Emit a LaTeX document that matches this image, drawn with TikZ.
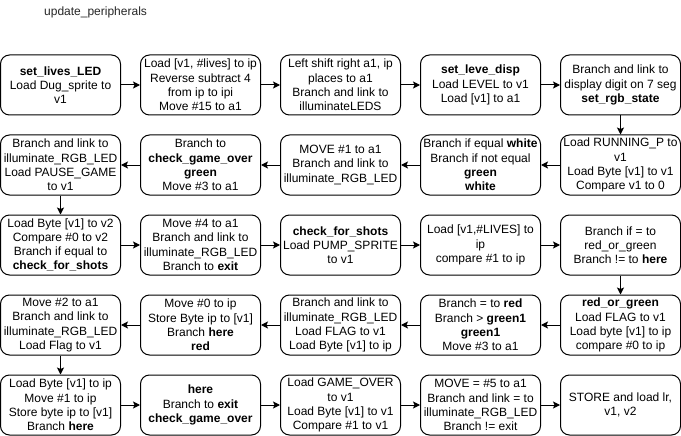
\documentclass[tikz,border=0pt]{standalone}
\usepackage{fontspec}
\setmainfont{Liberation Sans}
\usetikzlibrary{arrows.meta}
\tikzset{
  box/.style={draw, rounded corners=9pt, minimum width=120pt, minimum height=60pt,
    align=center, inner sep=0pt, line width=1pt,
    font=\fontsize{12pt}{14.2pt}\selectfont},
  arr/.style={-{Stealth[length=7pt,width=7pt,inset=1.5pt]}, line width=1pt},
  ttl/.style={anchor=west, inner sep=0pt, font=\fontsize{12pt}{14.4pt}\selectfont, text=black!85}
}
\begin{document}
\begin{tikzpicture}[x=1pt,y=-1pt]
\useasboundingbox (0,0) rectangle (681,436);
\node[ttl] (title) at (44,12) {update\_peripherals};
% row 1
\node[box] (a1) at (60.5,85) {\textbf{set\_lives\_LED}\\Load Dug\_sprite to\\v1};
\node[box] (a2) at (200.5,85) {Load [v1, \#lives] to ip\\Reverse subtract 4\\from ip to ipi\\Move \#15 to a1};
\node[box] (a3) at (340.5,85) {Left shift right a1, ip\\places to a1\\Branch and link to\\illuminateLEDS};
\node[box] (a4) at (480.5,85) {\textbf{set\_leve\_disp}\\Load LEVEL to v1\\Load [v1] to a1};
\node[box] (a5) at (620.5,85) {Branch and link to\\display digit on 7 seg\\\textbf{set\_rgb\_state}};
% row 2
\node[box] (b5) at (620.5,165) {Load RUNNING\_P to\\v1\\Load Byte [v1] to v1\\Compare v1 to 0};
\node[box] (b4) at (480.5,165) {Branch if equal \textbf{white}\\Branch if not equal\\\textbf{green}\\\textbf{white}};
\node[box] (b3) at (340.5,165) {MOVE \#1 to a1\\Branch and link to\\illuminate\_RGB\_LED};
\node[box] (b2) at (200.5,165) {Branch to\\\textbf{check\_game\_over}\\\textbf{green}\\Move \#3 to a1};
\node[box] (b1) at (60.5,165) {Branch and link to\\illuminate\_RGB\_LED\\Load PAUSE\_GAME\\to v1};
% row 3
\node[box] (c1) at (60.5,245) {Load Byte [v1] to v2\\Compare \#0 to v2\\Branch if equal to\\\textbf{check\_for\_shots}};
\node[box] (c2) at (200.5,245) {Move \#4 to a1\\Branch and link to\\illuminate\_RGB\_LED\\Branch to \textbf{exit}};
\node[box] (c3) at (340.5,245) {\textbf{check\_for\_shots}\\Load PUMP\_SPRITE\\to v1};
\node[box] (c4) at (480.5,245) {Load [v1,\#LIVES] to\\ip\\compare \#1 to ip};
\node[box] (c5) at (620.5,245) {Branch if = to\\red\_or\_green\\Branch != to \textbf{here}};
% row 4
\node[box] (d5) at (620.5,325) {\textbf{red\_or\_green}\\Load FLAG to v1\\Load byte [v1] to ip\\compare \#0 to ip};
\node[box] (d4) at (480.5,325) {Branch = to \textbf{red}\\Branch > \textbf{green1}\\\textbf{green1}\\Move \#3 to a1};
\node[box] (d3) at (340.5,325) {Branch and link to\\illuminate\_RGB\_LED\\Load FLAG to v1\\Load Byte [v1] to ip};
\node[box] (d2) at (200.5,325) {Move \#0 to ip\\Store Byte ip to [v1]\\Branch \textbf{here}\\\textbf{red}};
\node[box] (d1) at (60.5,325) {Move \#2 to a1\\Branch and link to\\illuminate\_RGB\_LED\\Load Flag to v1};
% row 5
\node[box] (e1) at (60.5,405) {Load Byte [v1] to ip\\Move \#1 to ip\\Store byte ip to [v1]\\Branch \textbf{here}};
\node[box] (e2) at (200.5,405) {\textbf{here}\\Branch to \textbf{exit}\\\textbf{check\_game\_over}};
\node[box] (e3) at (340.5,405) {Load GAME\_OVER\\to v1\\Load Byte [v1] to v1\\Compare \#1 to v1};
\node[box] (e4) at (480.5,405) {MOVE = \#5 to a1\\Branch and link = to\\illuminate\_RGB\_LED\\Branch != exit};
\node[box] (e5) at (620.5,405) {STORE and load lr,\\v1, v2};
% connectors
\draw[arr] (a1) -- (a2);
\draw[arr] (a2) -- (a3);
\draw[arr] (a3) -- (a4);
\draw[arr] (a4) -- (a5);
\draw[arr] (a5) -- (b5);
\draw[arr] (b5) -- (b4);
\draw[arr] (b4) -- (b3);
\draw[arr] (b3) -- (b2);
\draw[arr] (b2) -- (b1);
\draw[arr] (b1) -- (c1);
\draw[arr] (c1) -- (c2);
\draw[arr] (c2) -- (c3);
\draw[arr] (c3) -- (c4);
\draw[arr] (c4) -- (c5);
\draw[arr] (c5) -- (d5);
\draw[arr] (d5) -- (d4);
\draw[arr] (d4) -- (d3);
\draw[arr] (d3) -- (d2);
\draw[arr] (d2) -- (d1);
\draw[arr] (d1) -- (e1);
\draw[arr] (e1) -- (e2);
\draw[arr] (e2) -- (e3);
\draw[arr] (e3) -- (e4);
\draw[arr] (e4) -- (e5);
\end{tikzpicture}
\end{document}
